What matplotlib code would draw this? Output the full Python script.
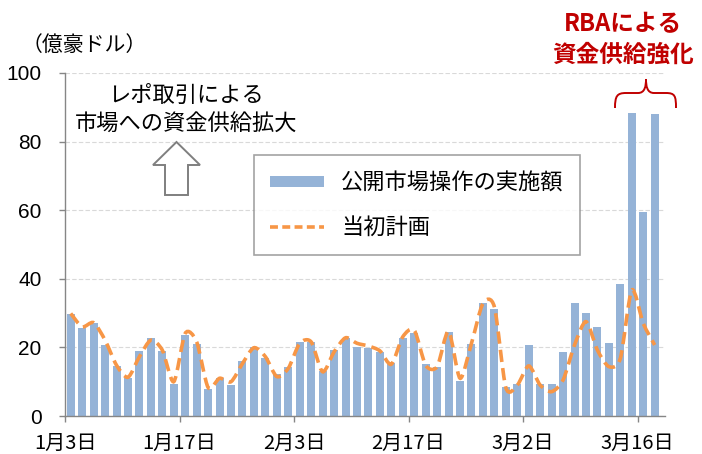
import matplotlib
matplotlib.use("Agg")
import matplotlib.pyplot as plt
import numpy as np
from matplotlib.path import Path
from matplotlib.patches import PathPatch, Polygon, Patch
from matplotlib.lines import Line2D

plt.rcParams['font.family'] = ['Noto Sans CJK JP', 'DejaVu Sans']

# Data (億豪ドル), business days from 1月3日 to 3月17日
actual = [29.6, 25.7, 27.0, 20.7, 14.6, 11.0, 18.9, 22.6, 19.0, 9.3,
          23.6, 21.0, 7.9, 11.0, 9.0, 16.1, 20.2, 16.8, 12.2, 14.4,
          21.5, 21.6, 13.2, 19.2, 22.6, 20.2, 19.9, 18.7, 15.5, 22.8,
          24.1, 15.1, 14.4, 24.4, 10.3, 21.0, 33.0, 31.1, 8.5, 9.2,
          20.6, 9.2, 9.2, 18.6, 33.0, 29.9, 26.0, 21.3, 38.4, 88.4,
          59.5, 88.1]
plan = [29.9, 26.0, 27.2, 22.1, 14.8, 11.3, 17.3, 22.1, 19.2, 10.0,
        24.1, 21.6, 8.3, 11.0, 10.0, 15.3, 19.9, 17.3, 11.5, 13.9,
        21.2, 21.6, 12.9, 18.7, 22.8, 21.2, 20.4, 19.0, 15.1, 23.1,
        25.0, 14.8, 14.4, 24.7, 11.0, 21.2, 32.8, 31.8, 8.3, 9.0,
        14.6, 9.0, 7.1, 10.5, 20.7, 27.5, 19.2, 14.4, 16.8, 36.7,
        27.0, 20.7]
tick_labels = ['1月3日', '1月17日', '2月3日', '2月17日', '3月2日', '3月16日']
tick_every = 10

W, H = 702, 454
fig = plt.figure(figsize=(W / 100, H / 100), dpi=100)
ax = fig.add_axes([65 / W, 1 - 416 / H, 600 / W, (416 - 73) / H])

def px(x, y):
    return (x / W, 1 - y / H)

bar_color = '#95B3D7'
line_color = '#F79646'

x = np.arange(len(actual))
ax.bar(x, actual, width=0.7, color=bar_color, zorder=2)

# smoothed dashed line (Catmull-Rom -> Bezier)
pts = np.column_stack([x, plan]).astype(float)
verts = [tuple(pts[0])]
codes = [Path.MOVETO]
n = len(pts)
k = 7.5
for i in range(n - 1):
    p0 = pts[max(i - 1, 0)]
    p1 = pts[i]
    p2 = pts[i + 1]
    p3 = pts[min(i + 2, n - 1)]
    c1 = p1 + (p2 - p0) / k
    c2 = p2 - (p3 - p1) / k
    verts += [tuple(c1), tuple(c2), tuple(p2)]
    codes += [Path.CURVE4] * 3
ls = (0, (3.4, 1.7))
ax.add_patch(PathPatch(Path(verts, codes), fill=False, edgecolor=line_color,
                       lw=2.6, linestyle=ls, zorder=3, capstyle='butt'))

ax.set_xlim(-0.5, 51.9)
ax.set_ylim(0, 100)
ax.set_yticks(np.arange(0, 101, 20))
ax.set_yticklabels([str(v) for v in range(0, 101, 20)],
                   fontfamily='Liberation Sans', fontsize=15)
ax.set_xticks(np.arange(len(tick_labels)) * tick_every - 0.5)
ax.set_xticklabels(tick_labels, fontsize=14.5)
ax.grid(axis='y', color='#D9D9D9', linestyle=(0, (4, 2)), lw=0.8, zorder=0)
for s in ['top', 'right']:
    ax.spines[s].set_visible(False)
for s in ['left', 'bottom']:
    ax.spines[s].set_color('#868686')
    ax.spines[s].set_linewidth(1.0)
ax.tick_params(axis='both', colors='#868686', length=4, width=1.0,
               labelcolor='black')
ax.tick_params(axis='y', pad=13)
ax.tick_params(axis='x', pad=8)

# legend
handles = [Patch(facecolor=bar_color, edgecolor='none'),
           Line2D([0], [0], color=line_color, lw=2.6, linestyle=(0, (2.2, 1.2)))]
leg = ax.legend(handles, ['公開市場操作の実施額', '当初計画'],
                loc='center', bbox_to_anchor=((417 - 65) / 600, (416 - 205) / 343),
                fontsize=16, frameon=True, fancybox=False, edgecolor='#8C8C8C',
                borderpad=0.75, labelspacing=0.95, handlelength=2.4,
                handleheight=0.4, handletextpad=0.8, borderaxespad=0)
leg.get_frame().set_linewidth(1.2)

# unit label
fig.text(*px(22, 45), '（億豪ドル）', fontsize=15, ha='left', va='center')

# annotation text
fig.text(*px(186, 95), 'レポ取引による', fontsize=16, ha='center', va='center')
fig.text(*px(186, 123), '市場への資金供給拡大', fontsize=16, ha='center', va='center')

# hollow arrow
arrow_pts = [px(176.5, 142), px(200, 165), px(188, 165), px(188, 195),
             px(165, 195), px(165, 165), px(153, 165)]
fig.patches.append(Polygon(arrow_pts, closed=True, facecolor='white',
                           edgecolor='#7F7F7F', lw=1.4, transform=fig.transFigure,
                           figure=fig))

# RBA text
red = '#C00000'
fig.text(*px(623, 24), 'RBAによる', fontsize=17, fontweight='bold', color=red,
         ha='center', va='center')
fig.text(*px(623, 55), '資金供給強化', fontsize=17, fontweight='bold', color=red,
         ha='center', va='center')

# curly brace
bverts = [px(615, 108), px(615, 96), px(617, 93), px(626, 93),
          px(638, 93), px(645, 93), px(646, 86), px(646, 79),
          px(646, 86), px(647, 93), px(654, 93),
          px(666, 93), px(675, 93), px(676, 96), px(676, 108)]
bcodes = [Path.MOVETO, Path.CURVE4, Path.CURVE4, Path.CURVE4,
          Path.LINETO, Path.CURVE4, Path.CURVE4, Path.CURVE4,
          Path.CURVE4, Path.CURVE4, Path.CURVE4,
          Path.LINETO, Path.CURVE4, Path.CURVE4, Path.CURVE4]
fig.patches.append(PathPatch(Path(bverts, bcodes), fill=False, edgecolor=red,
                             lw=1.4, transform=fig.transFigure, figure=fig))

fig.savefig('out.png', dpi=100)
